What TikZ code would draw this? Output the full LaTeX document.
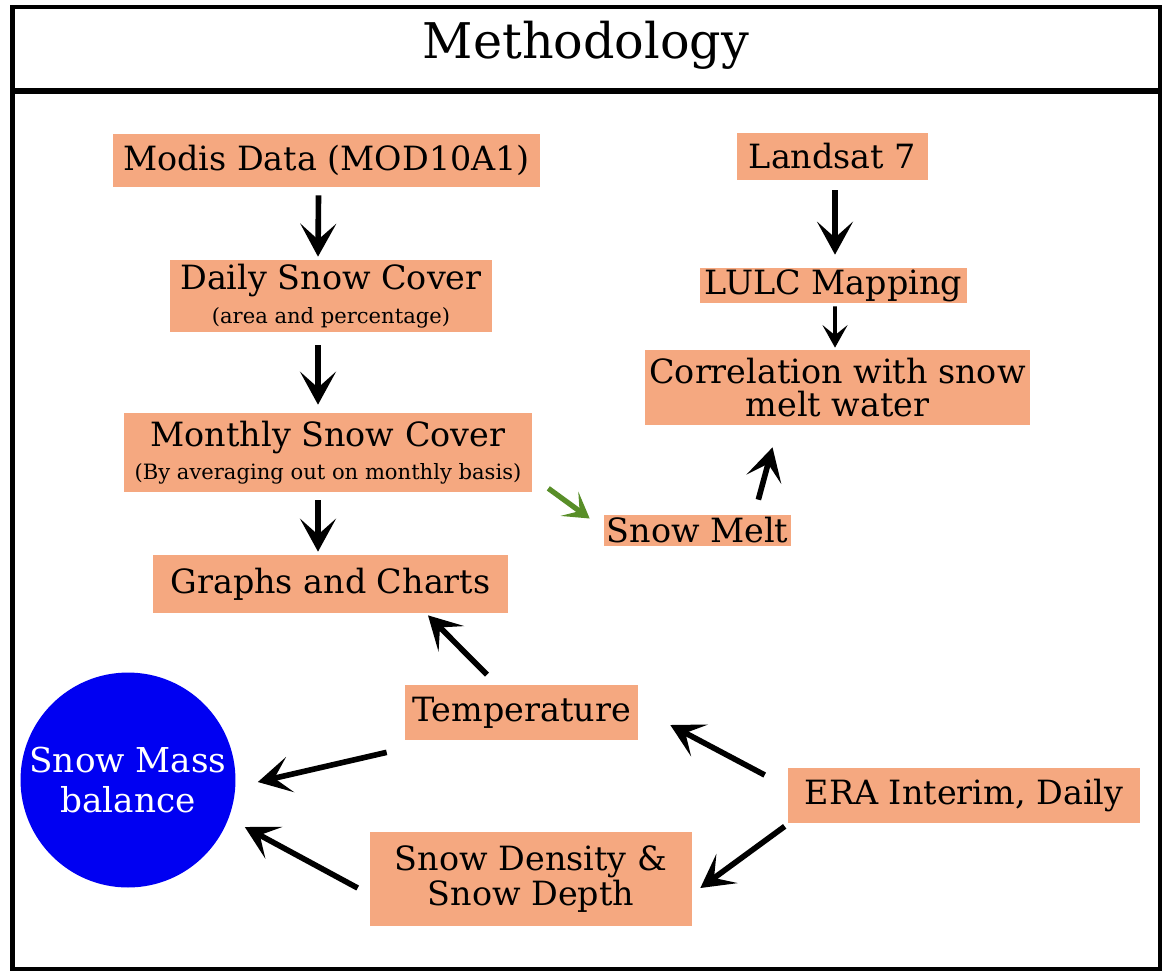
\documentclass[tikz,border=0pt]{standalone}
\usepackage{fontspec}
\setmainfont{DejaVu Serif}
\usetikzlibrary{arrows.meta,calc}
\definecolor{boxor}{RGB}{245,168,128}
\definecolor{massblue}{RGB}{0,0,242}
\definecolor{grn}{RGB}{88,142,40}
\begin{document}
\begin{tikzpicture}[x=0.02cm,y=-0.02cm,
  box/.style={fill=boxor, inner sep=0pt, align=center, font=\fontsize{19}{22}\selectfont},
  arr/.style={line width=3.2pt, -{Stealth[length=0.66cm,width=0.72cm,inset=0.32cm]}},
  sarr/.style={line width=2.2pt, -{Stealth[length=0.45cm,width=0.5cm,inset=0.2cm]}},
  garr/.style={line width=3pt, grn, -{Stealth[length=0.5cm,width=0.6cm,inset=0.25cm]}},
  frame/.style={line width=2.8pt}]
\useasboundingbox (0,0) rectangle (1165,971);
% frame
\draw[frame] (12.5,7) rectangle (1160,969);
\draw[line width=3.4pt] (12.5,91) -- (1160,91);
\node[font=\fontsize{28}{32}\selectfont] (title) at (586,45) {Methodology};
% left column
\node[box, minimum width=8.54cm, minimum height=1.06cm] (modis) at (326.5,160.5) {Modis Data (MOD10A1)};
\node[box, minimum width=6.44cm, minimum height=1.44cm] (daily) at (331,296) {Daily Snow Cover\\[-3pt]{\fontsize{12}{13}\selectfont (area and percentage)}};
\node[box, minimum width=8.16cm, minimum height=1.58cm] (monthly) at (328,452.5) {Monthly Snow Cover\\[-3pt]{\fontsize{12}{13}\selectfont (By averaging out on monthly basis)}};
\node[box, minimum width=7.1cm, minimum height=1.16cm] (graphs) at (330.5,584) {Graphs and Charts};
% right column
\node[box, minimum width=3.82cm, minimum height=0.94cm] (landsat) at (832.5,156.5) {Landsat 7};
\node[box, minimum width=5.34cm, minimum height=0.7cm] (lulc) at (833.5,285.5) {LULC Mapping};
\node[box, minimum width=7.7cm, minimum height=1.5cm] (corr) at (837.5,387.5) {Correlation with snow\\[-3pt]melt water};
\node[box, minimum width=3.74cm, minimum height=0.62cm] (melt) at (697.5,530.5) {Snow Melt};
% bottom
\node[box, minimum width=4.66cm, minimum height=1.1cm] (temp) at (521.5,712.5) {Temperature};
\node[box, minimum width=7.04cm, minimum height=1.1cm] (era) at (964,795.5) {ERA Interim, Daily};
\node[box, minimum width=6.44cm, minimum height=1.88cm] (dens) at (531,879) {Snow Density \&\\[-2pt]Snow Depth};
\node[circle, fill=massblue, text=white, minimum size=4.3cm, inner sep=0pt, align=center, font=\fontsize{19.5}{23}\selectfont] (mass) at (128,780) {Snow Mass\\balance};
% arrows
\draw[arr] ($(modis.south)+(-8,8)$) -- ($(daily.north)+(-13,-3)$);
\draw[arr] ($(daily.south)+(-13,13)$) -- ($(monthly.north)+(-10,-8)$);
\draw[arr] ($(monthly.south)+(-10,8)$) -- ($(graphs.north)+(-12.5,-3)$);
\draw[arr] ($(landsat.south)+(2.5,10)$) -- ($(lulc.north)+(1.5,-13)$);
\draw[sarr] ($(lulc.south)+(1.5,3)$) -- ($(corr.north)+(-2.5,-2)$);
\draw[garr] ($(monthly.south east)+(16,-4)$) -- ($(melt.west)+(-14,-12)$);
\draw[arr] ($(melt.north east)+(-33,-15)$) -- ($(corr.south)+(-65,22)$);
\draw[arr] ($(temp.north)+(-34.5,-10)$) -- ($(graphs.south)+(97.5,2)$);
\draw[arr] ($(temp.south west)+(-18,12)$) -- ($(mass.east)+(22,2)$);
\draw[arr] ($(dens.west)+(-12,9)$) -- ($(mass.east)+(9,47)$);
\draw[arr] ($(era.west)+(-23,-20.5)$) -- ($(temp.east)+(32,12.5)$);
\draw[arr] ($(era.south west)+(-3,3)$) -- ($(dens.east)+(8,9)$);
\end{tikzpicture}
\end{document}
